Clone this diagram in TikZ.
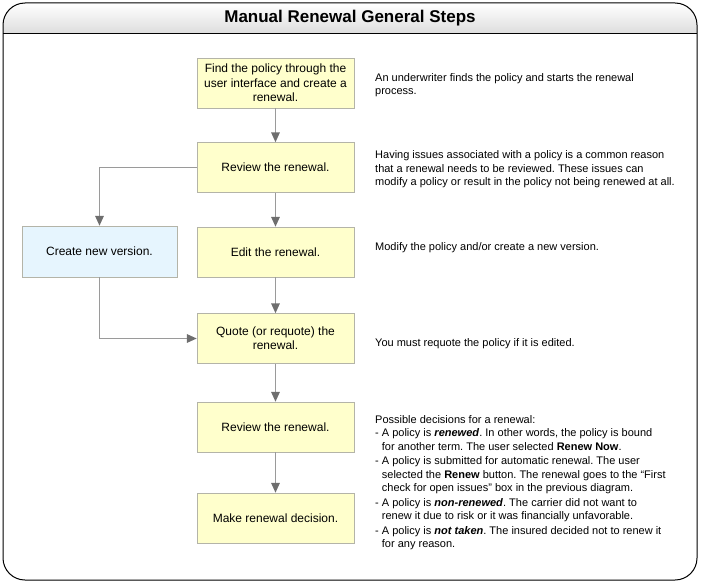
\documentclass[tikz,border=0pt]{standalone}
\usepackage{fontspec}
\setmainfont{Liberation Sans}
\frenchspacing
\usetikzlibrary{arrows.meta}
\definecolor{boxyellow}{HTML}{FFFFCC}
\definecolor{boxblue}{HTML}{E6F5FE}
\definecolor{boxline}{HTML}{B4B4A8}
\definecolor{connline}{HTML}{9A9A9A}
\definecolor{tipgray}{HTML}{6E6E6E}
\tikzset{
  ybox/.style={draw=boxline, fill=boxyellow, minimum width=157, minimum height=50, inner sep=0pt, align=center, font=\fontsize{12}{14.5}\selectfont},
  bbox/.style={ybox, fill=boxblue},
  conn/.style={draw=connline, line width=1.6pt, -{Triangle[width=8.5pt,length=10pt,color=tipgray,fill=tipgray]}},
  desc/.style={anchor=north west, inner sep=0pt, align=left, font=\fontsize{11}{13.6}\selectfont}
}
\begin{document}
\begin{tikzpicture}[x=1pt,y=-1pt]
\useasboundingbox (0,0) rectangle (701,583);
\begin{scope}
\clip[rounded corners=22pt] (3,3) rectangle (697,580);
\shade[top color=white, bottom color=black!13] (3,3) rectangle (697,33);
\end{scope}
\draw[line width=0.8pt] (3,33) -- (697,33);
\draw[rounded corners=22pt, line width=1pt] (3,3) rectangle (697,580);
\node[font=\fontsize{17}{20}\selectfont\bfseries] (title) at (350,18) {Manual Renewal General Steps};

\node[ybox] (find) at (275.5,83) {Find the policy through the\\user interface and create a\\renewal.};
\node[ybox] (review1) at (275.5,167.5) {Review the renewal.};
\node[ybox] (edit) at (275.5,252) {Edit the renewal.};
\node[bbox, minimum width=155, minimum height=51] (create) at (99.5,251.5) {Create new version.};
\node[ybox, font=\fontsize{12}{14}\selectfont] (quote) at (275.5,338.5) {Quote (or requote) the\\renewal.};
\node[ybox] (review2) at (275.5,427) {Review the renewal.};
\node[ybox] (make) at (275.5,518) {Make renewal decision.};

\draw[conn] (find.south) -- (review1.north);
\draw[conn] (review1.south) -- (edit.north);
\draw[conn] (edit.south) -- (quote.north);
\draw[conn] (quote.south) -- (review2.north);
\draw[conn] (review2.south) -- (make.north);
\draw[conn] (review1.west) -| (create.north);
\draw[conn] (create.south) |- (quote.west);

\node[desc] (d1) at (375,73) {An underwriter finds the policy and starts the renewal\\process.};
\node[desc] (d2) at (375,150.5) {Having issues associated with a policy is a common reason\\that a renewal needs to be reviewed. These issues can\\modify a policy or result in the policy not being renewed at all.};
\node[desc] (d3) at (375,242) {Modify the policy and/or create a new version.};
\node[desc] (d4) at (375,338) {You must requote the policy if it is edited.};
\node[desc, font=\fontsize{11}{13.2}\selectfont] (d5) at (375,415.5) {Possible decisions for a renewal:\\
- A policy is \textbf{\textit{renewed}}. In other words, the policy is bound\\
\phantom{- }for another term. The user selected \textbf{Renew Now}.\\[1.6pt]
- A policy is submitted for automatic renewal. The user\\
\phantom{- }selected the \textbf{Renew} button. The renewal goes to the ``First\\
\phantom{- }check for open issues'' box in the previous diagram.\\[1.6pt]
- A policy is \textbf{\textit{non-renewed}}. The carrier did not want to\\
\phantom{- }renew it due to risk or it was financially unfavorable.\\[1.6pt]
- A policy is \textbf{\textit{not taken}}. The insured decided not to renew it\\
\phantom{- }for any reason.};
\end{tikzpicture}
\end{document}
